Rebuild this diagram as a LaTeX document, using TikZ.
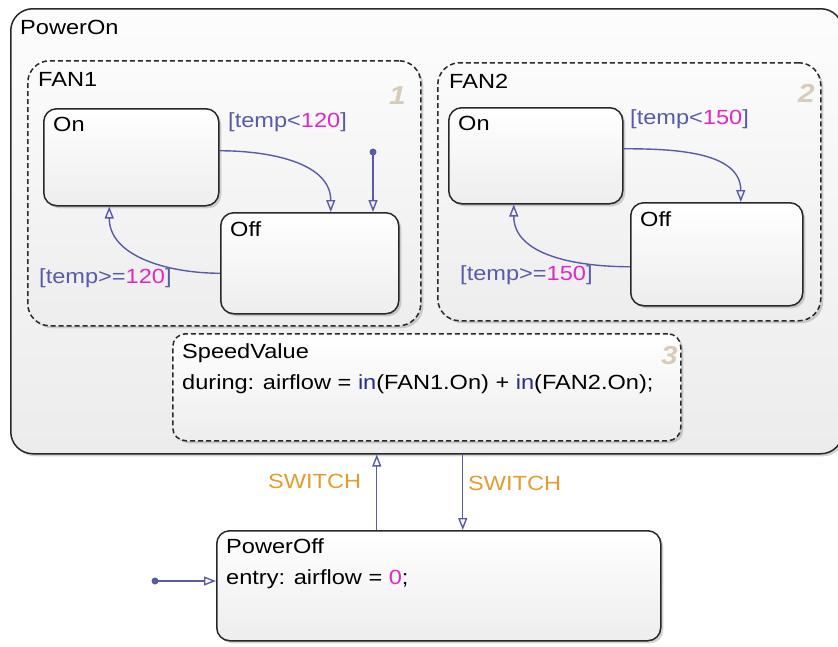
\documentclass[tikz,border=0pt]{standalone}
\usepackage{fontspec}
\setmainfont[FakeStretch=1.15]{Liberation Sans}
\usepackage{tikz}
\usetikzlibrary{positioning,arrows.meta,shadows}
\usepackage{xcolor}
\definecolor{trancol}{RGB}{88,92,168}
\definecolor{numcol}{RGB}{222,40,200}
\definecolor{evtcol}{RGB}{226,156,48}
\definecolor{ordcol}{RGB}{216,204,184}
\definecolor{edgecol}{RGB}{40,40,40}
\definecolor{kwcol}{RGB}{40,44,140}

\begin{document}
\begin{tikzpicture}[x=1pt,y=-1pt,
    font=\fontsize{20.5}{31}\selectfont,
    state/.style={draw=edgecol, line width=1.5pt, rounded corners=13pt, anchor=north west,
      top color=white, bottom color=gray!14,
      drop shadow={shadow xshift=2.5pt, shadow yshift=-2.5pt, opacity=.35}},
    group/.style={state, dashed, dash pattern=on 5pt off 3pt, rounded corners=22pt},
    stname/.style={anchor=north west, inner sep=0pt},
    ordnum/.style={anchor=north east, inner sep=0pt, text=ordcol, font=\fontsize{26}{26}\selectfont\bfseries\itshape},
    tran/.style={draw=trancol, line width=1.4pt, -{Triangle[open, length=12pt, width=9pt]}},
    guard/.style={anchor=north west, inner sep=0pt, text=trancol},
    evt/.style={anchor=north west, inner sep=0pt, text=evtcol},
    dot/.style={circle, fill=trancol, inner sep=0pt, minimum size=7pt}]
  \useasboundingbox (0,0) rectangle (838,646);
  \clip (0,0) rectangle (838,646);

  % superstate
  \node[state, rounded corners=22pt, minimum width=832pt, minimum height=445pt,
    top color=gray!2, bottom color=gray!15] (poweron) at (10,8) {};
  \node[stname] (poweronlbl) at (20,20) {PowerOn};

  % parallel substates
  \foreach \n/\k/\xo/\yo/\w/\h/\nx/\ny in {fanA/1/27/60/393/265/406/86, fanB/2/437/62/383/258/815/84}{
    \node[group, minimum width=\w pt, minimum height=\h pt, top color=gray!3, bottom color=gray!14] (\n) at (\xo,\yo) {};
    \node[ordnum] (\n num) at (\nx,\ny) {\k};
  }
  \node[stname] (fanAlbl) at (38,72) {FAN1};
  \node[stname] (fanBlbl) at (449,74) {FAN2};

  \node[state, minimum width=175pt, minimum height=97pt] (aon) at (43,108) {};
  \node[state, minimum width=178pt, minimum height=101pt] (aoff) at (220,212) {};
  \node[state, minimum width=174pt, minimum height=96pt] (bon) at (448,107) {};
  \node[state, minimum width=172pt, minimum height=103pt] (boff) at (630,202) {};
  \foreach \s/\t in {aon/On, aoff/Off, bon/On, boff/Off}{
    \node[stname] (\s lbl) at ([xshift=10pt, yshift=-9pt]\s.north west) {\t};
  }

  % FAN1 transitions
  \draw[tran] ([yshift=6.5pt]aon.east) to[out=0, in=90] ([xshift=21pt]aoff.north);
  \draw[tran] ([yshift=-10pt]aoff.west) to[out=180, in=-90] ([xshift=-22pt]aon.south);
  \node[dot] (ainit) at (373,152) {};
  \draw[tran] (ainit.center) -- (ainit.center |- aoff.north);
  \node[guard] (aguard1) at (228,112) {[temp<\textcolor{numcol}{120}]};
  \node[guard] (aguard2) at (39,268) {[temp>=\textcolor{numcol}{120}]};

  % FAN2 transitions
  \draw[tran] ([yshift=7pt]bon.east) to[out=0, in=90] ([xshift=24pt]boff.north);
  \draw[tran] ([yshift=-12.5pt]boff.west) to[out=180, in=-90] ([xshift=-22pt]bon.south);
  \node[guard] (bguard1) at (630,109) {[temp<\textcolor{numcol}{150}]};
  \node[guard] (bguard2) at (460,265) {[temp>=\textcolor{numcol}{150}]};

  % speed value
  \node[group, rounded corners=13pt, minimum width=508pt, minimum height=107pt] (speed) at (172,333) {};
  \node[ordnum] (speednum) at (678,346) {3};
  \node[stname, align=left] (speedlbl) at (182,343)
    {SpeedValue\\during: airflow = \textcolor{kwcol}{in}(FAN1.On) + \textcolor{kwcol}{in}(FAN2.On);};

  % power off
  \node[state, minimum width=444pt, minimum height=110pt] (poweroff) at (216,530) {};
  \node[stname, align=left] (powerofflbl) at (226,538)
    {PowerOff\\entry: airflow = \textcolor{numcol}{0};};
  \node[dot] (offinit) at (155,581) {};
  \draw[tran] (offinit.center) -- (offinit.center -| poweroff.west);

  % switch transitions
  \draw[tran] ([xshift=-62pt]poweroff.north) -- ([xshift=-62pt]poweroff.north |- poweron.south);
  \draw[tran] ([xshift=24pt]poweroff.north |- poweron.south) -- ([xshift=24pt]poweroff.north);
  \node[evt] (swup) at (268,474) {SWITCH};
  \node[evt] (swdown) at (468,476) {SWITCH};
\end{tikzpicture}
\end{document}
